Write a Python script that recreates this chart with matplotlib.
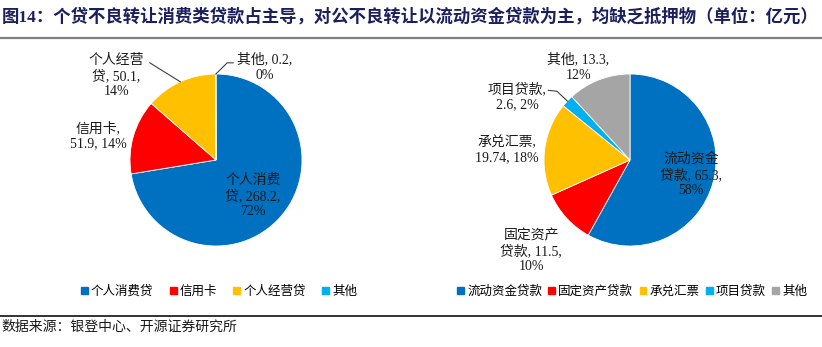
import numpy as np
import matplotlib.pyplot as plt
from matplotlib.lines import Line2D
from matplotlib.patches import Patch

plt.rcParams['font.family'] = ['Liberation Serif', 'Noto Sans CJK SC']

# 个贷不良转让（亿元）
retail_names = ['个人消费贷', '信用卡', '个人经营贷', '其他']
retail_values = [268.2, 51.9, 50.1, 0.2]
retail_labels = ['个人消费\n贷, 268.2,\n72%', '信用卡,\n51.9, 14%', '个人经营\n贷, 50.1,\n14%', '其他, 0.2,\n0%']

# 对公不良转让（亿元）
corp_names = ['流动资金贷款', '固定资产贷款', '承兑汇票', '项目贷款', '其他']
corp_values = [65.3, 11.5, 19.74, 2.6, 13.3]
corp_labels = ['流动资金\n贷款, 65.3,\n58%', '固定资产\n贷款, 11.5,\n10%', '承兑汇票,\n19.74, 18%', '项目贷款,\n2.6, 2%', '其他, 13.3,\n12%']

retail_colors = ['#0070C0', '#FF0000', '#FFC000', '#00B0F0']
corp_colors = ['#0070C0', '#FF0000', '#FFC000', '#00B0F0', '#A5A5A5']

# label centres, in units of pie radius
retail_pos = [(0.43, -0.42), (-1.37, 0.28), (-1.16, 0.98), (0.57, 1.08)]
corp_pos = [(0.71, -0.17), (-1.15, -1.06), (-1.43, 0.12), (-1.31, 0.74), (-0.60, 1.08)]
# leader lines: points on the text side, the line then runs to the wedge edge
retail_leaders = {3: [(0.20, 1.13), (0.13, 1.13)], 2: [(-0.77, 1.13)]}
corp_leaders = {3: [(-0.95, 0.81), (-0.85, 0.80)]}

W, H = 822, 347
fig = plt.figure(figsize=(W / 100, H / 100), dpi=100)
R = 86  # pie radius in pixels


def pie_axes(cx, cy):
    x0, x1, y0, y1 = -2.2, 2.2, -1.9, 1.5
    left = (cx + x0 * R) / W
    bottom = (H - (cy - y0 * R)) / H
    ax = fig.add_axes([left, bottom, (x1 - x0) * R / W, (y1 - y0) * R / H])
    return ax, (x0, x1, y0, y1)


def draw_pie(cx, cy, values, colors, labels, pos, leaders):
    ax, lims = pie_axes(cx, cy)
    wedges, _ = ax.pie(values, colors=colors, startangle=90, counterclock=False,
                       radius=1.0, wedgeprops=dict(edgecolor='white', linewidth=0.6))
    for i, (lab, (x, y)) in enumerate(zip(labels, pos)):
        ax.text(x, y, lab, ha='center', va='center', fontsize=10,
                color='#1a1a1a', linespacing=1.2)
    for i, pts in leaders.items():
        w = wedges[i]
        mid = np.deg2rad((w.theta1 + w.theta2) / 2)
        xs = [p[0] for p in pts] + [np.cos(mid)]
        ys = [p[1] for p in pts] + [np.sin(mid)]
        ax.plot(xs, ys, color='#404040', lw=0.8)
    ax.set_xlim(lims[0], lims[1])
    ax.set_ylim(lims[2], lims[3])
    ax.set_aspect('auto')
    ax.axis('off')
    return ax


draw_pie(216, 160, retail_values, retail_colors, retail_labels, retail_pos, retail_leaders)
draw_pie(630, 160, corp_values, corp_colors, corp_labels, corp_pos, corp_leaders)

# legends
leg_kw = dict(loc='center', frameon=False, fontsize=9, handlelength=0.55,
              handleheight=0.55, handletextpad=0.25, borderaxespad=0, borderpad=0)
fig.legend([Patch(color=c) for c in retail_colors], retail_names, ncol=4,
           bbox_to_anchor=(219 / W, 1 - 292 / H), columnspacing=1.3, **leg_kw)
fig.legend([Patch(color=c) for c in corp_colors], corp_names, ncol=5,
           bbox_to_anchor=(632 / W, 1 - 292 / H), columnspacing=0.5, **leg_kw)

# title and source
fig.text(0.002, 1 - 17 / H, '图14：个贷不良转让消费类贷款占主导，对公不良转让以流动资金贷款为主，均缺乏抵押物（单位：亿元）',
         ha='left', va='center', fontsize=12.5, fontweight='bold', color='#1c1f5e')
fig.add_artist(Line2D([0, 1], [1 - 38 / H, 1 - 38 / H], color='#808080', lw=1.6))
fig.add_artist(Line2D([0, 1], [1 - 316 / H, 1 - 316 / H], color='#111111', lw=1.2))
fig.text(0.002, 1 - 327 / H, '数据来源：银登中心、开源证券研究所', ha='left', va='center',
         fontsize=10, color='#1a1a1a')

fig.savefig('out.png', dpi=100)
